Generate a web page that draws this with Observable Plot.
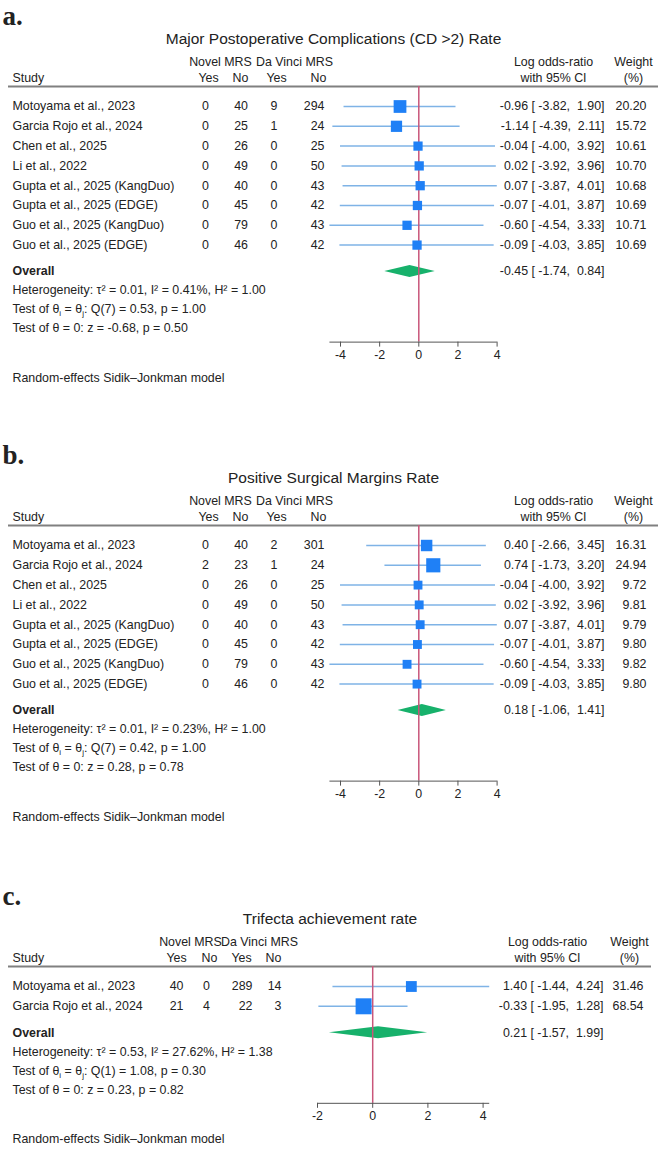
<!DOCTYPE html>
<html>
<head>
<meta charset="utf-8">
<script src="https://cdn.jsdelivr.net/npm/d3@7"></script>
<script src="https://cdn.jsdelivr.net/npm/@observablehq/plot@0.6"></script>
<style>
  html, body { margin: 0; padding: 0; background: #fff; }
  #forest svg { display: block; }
  #forest svg text { white-space: pre; }
</style>
</head>
<body>
<div id="forest"></div>
<script>
// Study labels shared by the panels
const studyNames = [
  "Motoyama et al., 2023",
  "Garcia Rojo et al., 2024",
  "Chen et al., 2025",
  "Li et al., 2022",
  "Gupta et al., 2025 (KangDuo)",
  "Gupta et al., 2025 (EDGE)",
  "Guo et al., 2025 (KangDuo)",
  "Guo et al., 2025 (EDGE)"
];

// Column headers and footnote
const groupHeaders = ["Novel MRS", "Da Vinci MRS"];
const armHeaders = ["Yes", "No", "Yes", "No"];
const effectHeaders = ["Log odds-ratio", "with 95% CI"];
const weightHeaders = ["Weight", "(%)"];
const modelNote = "Random-effects Sidik\u2013Jonkman model";

// Axis ticks
const ticksWide = [-4, -2, 0, 2, 4];
const ticksNarrow = [-2, 0, 2, 4];

// a. Major postoperative complications (CD >2)
const complicationsTitle = "Major Postoperative Complications (CD >2) Rate";
const complicationsCounts = [[0, 40, 9, 294], [0, 25, 1, 24], [0, 26, 0, 25], [0, 49, 0, 50],
                             [0, 40, 0, 43], [0, 45, 0, 42], [0, 79, 0, 43], [0, 46, 0, 42]];
const complicationsLogOR = [-0.96, -1.14, -0.04, 0.02, 0.07, -0.07, -0.60, -0.09];
const complicationsLower = [-3.82, -4.39, -4.00, -3.92, -3.87, -4.01, -4.54, -4.03];
const complicationsUpper = [1.90, 2.11, 3.92, 3.96, 4.01, 3.87, 3.33, 3.85];
const complicationsWeight = [20.20, 15.72, 10.61, 10.70, 10.68, 10.69, 10.71, 10.69];
const complicationsOverall = [-0.45, -1.74, 0.84];
const complicationsStats = [
  "Heterogeneity: \u03c4\u00b2 = 0.01, I\u00b2 = 0.41%, H\u00b2 = 1.00",
  "Test of \u03b8_i = \u03b8_j: Q(7) = 0.53, p = 1.00",
  "Test of \u03b8 = 0: z = -0.68, p = 0.50"
];

// b. Positive surgical margins
const marginsTitle = "Positive Surgical Margins Rate";
const marginsCounts = [[0, 40, 2, 301], [2, 23, 1, 24], [0, 26, 0, 25], [0, 49, 0, 50],
                       [0, 40, 0, 43], [0, 45, 0, 42], [0, 79, 0, 43], [0, 46, 0, 42]];
const marginsLogOR = [0.40, 0.74, -0.04, 0.02, 0.07, -0.07, -0.60, -0.09];
const marginsLower = [-2.66, -1.73, -4.00, -3.92, -3.87, -4.01, -4.54, -4.03];
const marginsUpper = [3.45, 3.20, 3.92, 3.96, 4.01, 3.87, 3.33, 3.85];
const marginsWeight = [16.31, 24.94, 9.72, 9.81, 9.79, 9.80, 9.82, 9.80];
const marginsOverall = [0.18, -1.06, 1.41];
const marginsStats = [
  "Heterogeneity: \u03c4\u00b2 = 0.01, I\u00b2 = 0.23%, H\u00b2 = 1.00",
  "Test of \u03b8_i = \u03b8_j: Q(7) = 0.42, p = 1.00",
  "Test of \u03b8 = 0: z = 0.28, p = 0.78"
];

// c. Trifecta achievement
const trifectaTitle = "Trifecta achievement rate";
const trifectaStudies = studyNames.slice(0, 2);
const trifectaCounts = [[40, 0, 289, 14], [21, 4, 22, 3]];
const trifectaLogOR = [1.40, -0.33];
const trifectaLower = [-1.44, -1.95];
const trifectaUpper = [4.24, 1.28];
const trifectaWeight = [31.46, 68.54];
const trifectaOverall = [0.21, -1.57, 1.99];
const trifectaStats = [
  "Heterogeneity: \u03c4\u00b2 = 0.53, I\u00b2 = 27.62%, H\u00b2 = 1.38",
  "Test of \u03b8_i = \u03b8_j: Q(1) = 1.08, p = 0.30",
  "Test of \u03b8 = 0: z = 0.23, p = 0.82"
];

// Column placement (px) for the two table widths
const wideLayout = {
  marginRight: 4, xRange: [340, 496.6], rMax: 16,
  groupX: [220, 294], armX: [208, 240, 276, 318], countX: [208.5, 247.5, 277, 324],
  effectX: 553, ciX: 604, weightHeadX: 633, weightX: 646
};
const narrowLayout = {
  marginRight: 11, xRange: [317, 482.6], rMax: 10.9,
  groupX: [190, 259], armX: [176, 209, 241, 273], countX: [183, 209.5, 252, 281],
  effectX: 547, ciX: 603, weightHeadX: 629, weightX: 643
};

const FONT = "'Liberation Sans', Arial, Helvetica, sans-serif";
const INK = "#222";
const ROW = 19.8;        // row pitch
const FIRST_ROW = 106;   // first study row, from the panel top
const MARGIN_LEFT = 8;
const toRow = v => (v - FIRST_ROW) / ROW;

const f2 = v => v.toFixed(2);
const ciText = (e, lo, hi) => `${f2(e)} [${f2(lo).padStart(6)},${f2(hi).padStart(6)}]`;

function forestPanel(p) {
  const L = p.layout;
  const n = p.studies.length;
  const rows = p.studies.map((name, i) => ({
    name, i, counts: p.counts[i],
    est: p.est[i], lo: p.lo[i], hi: p.hi[i], weight: p.weight[i]
  }));
  const [oEst, oLo, oHi] = p.overall;

  const last = n - 1;
  const overallRow = last + 1.33;
  const statRows = [0.96, 1.92, 2.88].map(d => overallRow + d);
  const axisRow = last + 4.9;
  const noteRow = axisRow + 1.82;
  const ruleRow = toRow(86), head1 = toRow(62), head2 = toRow(78);
  const titleRow = toRow(39), labelRow = toRow(15.5);
  const axisPx = FIRST_ROW + axisRow * ROW;

  const axisLo = Math.min(p.ticks[0], d3.min(p.lo), oLo);
  const axisHi = Math.max(p.ticks[p.ticks.length - 1], d3.max(p.hi), oHi);
  const dH = 6 / ROW;  // half height of the pooled diamond

  const at = (x, anchor) => ({frameAnchor: "left", dx: x - MARGIN_LEFT, textAnchor: anchor, lineAnchor: "middle"});
  const word = (t, y, x, anchor = "middle", opts = {}) =>
    Plot.text([{t, y}], {y: "y", text: "t", ...at(x, anchor), fill: INK, ...opts});

  const marks = [
    // panel letter and title
    word(p.label, labelRow, 2, "start", {
      fontFamily: "'Liberation Serif', 'Times New Roman', serif", fontWeight: "bold", fontSize: 27
    }),
    Plot.text([{t: p.title, y: titleRow}], {
      y: "y", text: "t", frameAnchor: "top", lineAnchor: "middle", fontSize: 15.5, fill: INK
    }),

    // table header
    ...groupHeaders.map((t, k) => word(t, head1, L.groupX[k])),
    ...armHeaders.map((t, k) => word(t, head2, L.armX[k])),
    word("Study", head2, 12, "start"),
    word(effectHeaders[0], head1, L.effectX),
    word(effectHeaders[1], head2, L.effectX),
    word(weightHeaders[0], head1, L.weightHeadX),
    word(weightHeaders[1], head2, L.weightHeadX),
    Plot.ruleY([{y: ruleRow}], {y: "y", stroke: "#808080", strokeWidth: 2}),

    // confidence intervals, pooled estimate, null line, study estimates
    Plot.ruleY(rows, {y: "i", x1: "lo", x2: "hi", stroke: "#7fb3e6", strokeWidth: 1.5}),
    Plot.areaX(
      [{y: overallRow - dH, x1: oEst, x2: oEst}, {y: overallRow, x1: oLo, x2: oHi}, {y: overallRow + dH, x1: oEst, x2: oEst}],
      {y: "y", x1: "x1", x2: "x2", fill: "#17b16b"}
    ),
    Plot.ruleX([{x: 0, y1: ruleRow, y2: axisRow}], {x: "x", y1: "y1", y2: "y2", stroke: "#c9567a", strokeWidth: 1.5}),
    Plot.dot(rows, {x: "est", y: "i", r: "weight", symbol: "square", fill: "#1f80f6", stroke: "none"}),

    // study rows
    Plot.text(rows, {y: "i", text: "name", ...at(12, "start"), fill: INK}),
    ...[0, 1, 2, 3].map(k =>
      Plot.text(rows, {y: "i", text: d => String(d.counts[k]), ...at(L.countX[k], "end"), fill: INK})),
    Plot.text(rows, {y: "i", text: d => ciText(d.est, d.lo, d.hi), ...at(L.ciX, "end"), fill: INK}),
    Plot.text(rows, {y: "i", text: d => f2(d.weight), ...at(L.weightX, "end"), fill: INK}),

    // pooled row and statistics
    word("Overall", overallRow, 12, "start", {fontWeight: "bold"}),
    word(ciText(oEst, oLo, oHi), overallRow, L.ciX, "end"),
    ...p.stats.map((s, j) => word(s, statRows[j], 12, "start")),

    // x axis
    Plot.ruleY([{y: axisRow, x1: axisLo, x2: axisHi}], {y: "y", x1: "x1", x2: "x2", stroke: "#555"}),
    Plot.axisX({
      anchor: "bottom", ticks: p.ticks, tickSize: 5, tickPadding: 3,
      tickFormat: d => String(d), fontSize: 12.4, stroke: "#555", fill: INK, label: null
    }),

    word(modelNote, noteRow, 12, "start")
  ];

  const svg = Plot.plot({
    width: 662,
    height: p.height,
    marginLeft: MARGIN_LEFT,
    marginRight: L.marginRight,
    marginTop: 0,
    marginBottom: p.height - axisPx,
    style: {fontFamily: FONT, fontSize: "12.4px", color: INK, background: "#fff"},
    x: {domain: [p.ticks[0], p.ticks[p.ticks.length - 1]], range: L.xRange, label: null},
    y: {domain: [0, 1], range: [FIRST_ROW, FIRST_ROW + ROW], axis: null},
    r: {type: "sqrt", domain: [0, 100], range: [0, L.rMax]},
    marks
  });

  // θ_i / θ_j → subscripted tspans
  svg.querySelectorAll("text").forEach(t => {
    const s = t.textContent;
    if (!s.includes("_")) return;
    t.textContent = "";
    s.split(/_(\w)/).forEach((part, k) => {
      if (!part) return;
      const ts = document.createElementNS("http://www.w3.org/2000/svg", "tspan");
      ts.textContent = part;
      if (k % 2) { ts.setAttribute("font-size", "8px"); ts.setAttribute("dy", "3"); }
      else if (k > 0) ts.setAttribute("dy", "-3");
      t.appendChild(ts);
    });
  });
  return svg;
}

const panels = [
  {label: "a.", title: complicationsTitle, studies: studyNames, counts: complicationsCounts,
   est: complicationsLogOR, lo: complicationsLower, hi: complicationsUpper, weight: complicationsWeight,
   overall: complicationsOverall, stats: complicationsStats, ticks: ticksWide, layout: wideLayout, height: 439},
  {label: "b.", title: marginsTitle, studies: studyNames, counts: marginsCounts,
   est: marginsLogOR, lo: marginsLower, hi: marginsUpper, weight: marginsWeight,
   overall: marginsOverall, stats: marginsStats, ticks: ticksWide, layout: wideLayout, height: 441},
  {label: "c.", title: trifectaTitle, studies: trifectaStudies, counts: trifectaCounts,
   est: trifectaLogOR, lo: trifectaLower, hi: trifectaUpper, weight: trifectaWeight,
   overall: trifectaOverall, stats: trifectaStats, ticks: ticksNarrow, layout: narrowLayout, height: 271}
];

const host = document.getElementById("forest");
panels.forEach(p => host.appendChild(forestPanel(p)));
</script>
</body>
</html>
